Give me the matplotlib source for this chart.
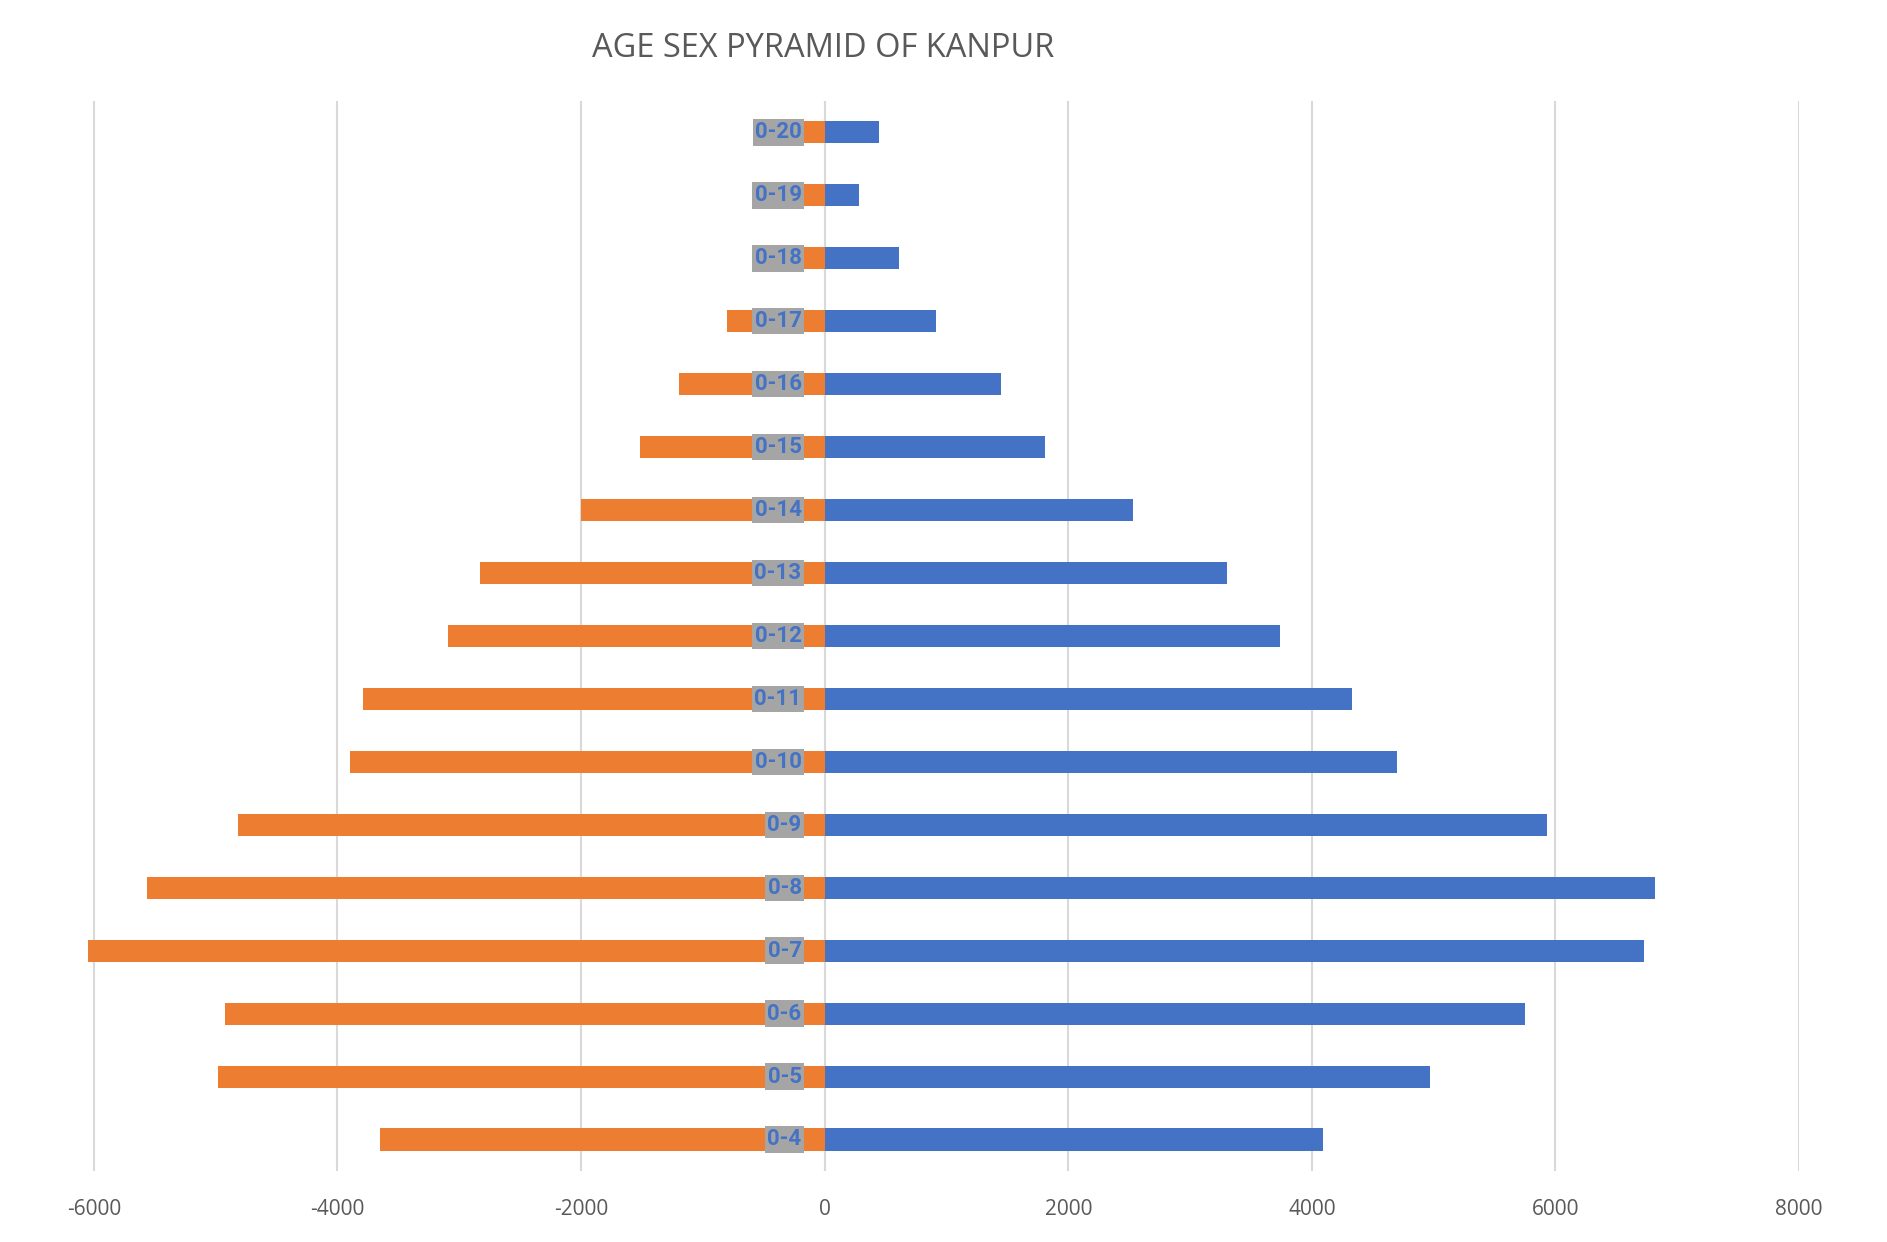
import numpy as np
import matplotlib.pyplot as plt

ages = ['0-4', '0-5', '0-6', '0-7', '0-8', '0-9', '0-10', '0-11', '0-12',
        '0-13', '0-14', '0-15', '0-16', '0-17', '0-18', '0-19', '0-20']
male = [4090, 4970, 5750, 6730, 6820, 5930, 4700, 4330, 3740,
        3300, 2530, 1810, 1450, 910, 610, 280, 450]
female = [-3650, -4980, -4920, -6050, -5560, -4820, -3900, -3790, -3090,
          -2830, -2000, -1520, -1200, -800, -570, -300, -420]
xticks = [-6000, -4000, -2000, 0, 2000, 4000, 6000, 8000]

y = np.arange(len(ages))

fig = plt.figure(figsize=(18.87, 12.42), dpi=100)
ax = fig.add_axes([0.0433, 0.0572, 0.9101, 0.8615])

ax.barh(y, female, height=0.35, color='#ED7D31', zorder=2)
ax.barh(y, male, height=0.35, color='#4472C4', zorder=2)

# category labels sit at the base of the female bars
for i in range(len(ages)):
        ax.text(-190, y[i], ages[i], ha='right', va='center', color='#4472C4',
                fontsize=16, fontweight='bold', family='Roboto',
                bbox=dict(boxstyle='square,pad=0.1', fc='#A5A5A5', ec='none'), zorder=3)

ax.axvline(0, color='#D9D9D9', lw=1.5, zorder=1)
ax.set_xlim(-6100, 8000)
ax.set_ylim(-0.5, len(ages) - 0.5)
ax.set_xticks(xticks)
ax.set_xticklabels([str(t) for t in xticks])
ax.set_yticks([])
ax.grid(axis='x', color='#D9D9D9', lw=1.5, zorder=0)
ax.tick_params(axis='x', length=0, pad=20, labelsize=15, labelcolor='#595959')
for lbl in ax.get_xticklabels():
        lbl.set_family('Open Sans')
for s in ax.spines.values():
        s.set_visible(False)

fig.text(0.436, 0.961, 'AGE SEX PYRAMID OF KANPUR', ha='center', va='center',
         fontsize=23.5, color='#595959', family='Open Sans')

plt.savefig('out.png', dpi=100)
